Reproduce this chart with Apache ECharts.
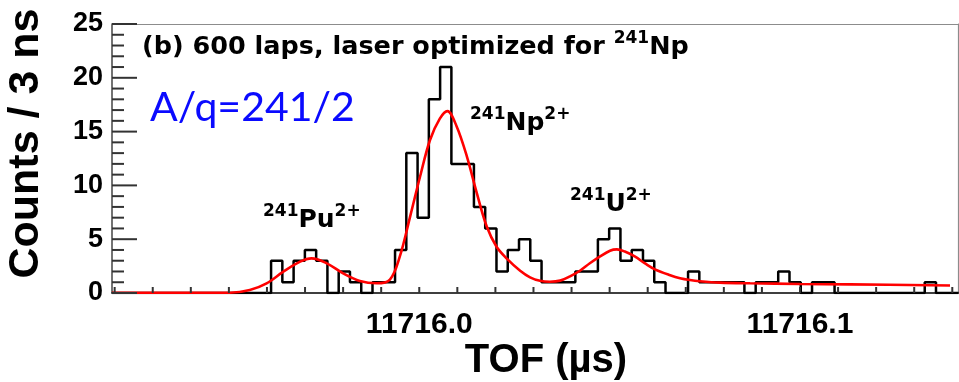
<!DOCTYPE html>
<html>
<head>
<meta charset="utf-8">
<script src="https://cdn.jsdelivr.net/npm/echarts@6/dist/echarts.min.js"></script>
<style>
  html, body { margin: 0; padding: 0; background: #fff; }
  #chart { width: 959px; height: 382px; }
</style>
</head>
<body>
<div id="chart"></div>
<script>
// Time-of-flight histogram, 3 ns bins (counts per bin, left to right)
const binStart = 11715.95812;   // left edge of the first listed bin, µs
const binWidth = 0.00296;       // bin width, µs
const binCounts = [
  0, 3, 1, 3, 4, 3, 0, 2, 1, 0, 1, 1,
  4, 13, 7, 18, 21, 12, 12, 8, 6, 2,
  4, 5, 3, 1, 1, 1, 2, 2, 5, 6,
  3, 4, 3, 1, 0, 0, 2, 1, 1, 1,
  1, 0, 1, 1, 2, 1, 0, 1, 1, 0,
  0, 0, 0, 0, 0, 0, 0, 1, 0, 0
];

// Fitted curve (sampled)
const fitTof = [
  11715.9193, 11715.9503, 11715.9555, 11715.9599, 11715.9643, 11715.9687,
  11715.9717, 11715.9757, 11715.9800, 11715.9844, 11715.9888, 11715.9923,
  11715.9949, 11715.9976, 11716.0002, 11716.0028, 11716.0054, 11716.0074,
  11716.0098, 11716.0125, 11716.0151, 11716.0177, 11716.0203, 11716.0230,
  11716.0265, 11716.0291, 11716.0317, 11716.0343, 11716.0370, 11716.0396,
  11716.0422, 11716.0448, 11716.0475, 11716.0501, 11716.0519, 11716.0540,
  11716.0567, 11716.0593, 11716.0619, 11716.0659, 11716.0685, 11716.0711,
  11716.0737, 11716.0790, 11716.0869, 11716.1000, 11716.1131, 11716.1394
];
const fitCounts = [
  0.02, 0.03, 0.28, 0.90, 1.98, 2.91,
  3.22, 2.76, 1.83, 1.12, 0.90, 1.25,
  3.40, 7.10, 10.8, 14.2, 16.2, 16.9,
  15.5, 12.7, 9.3, 6.2, 4.3, 3.2,
  2.07, 1.46, 1.14, 1.05, 1.15, 1.55,
  2.07, 2.76, 3.40, 3.93, 4.05, 3.85,
  3.37, 2.75, 2.20, 1.65, 1.37, 1.20,
  1.09, 0.96, 0.90, 0.84, 0.80, 0.70
];

// Axis ranges and ticks
const xMin = 11715.9193;
const xMax = 11716.1415;
const xTickValues = [
  11715.92, 11715.93, 11715.94, 11715.95, 11715.96, 11715.97, 11715.98, 11715.99,
  11716.00, 11716.01, 11716.02, 11716.03, 11716.04, 11716.05, 11716.06, 11716.07,
  11716.08, 11716.09, 11716.10, 11716.11, 11716.12, 11716.13, 11716.14
];
const xLabelValues = [11716.0, 11716.1];
const yMin = 0, yMax = 25, yStep = 5;
const yTickValues = [
  0, 1, 2, 3, 4, 5, 6, 7, 8, 9, 10, 11, 12,
  13, 14, 15, 16, 17, 18, 19, 20, 21, 22, 23, 24, 25
];

const SANS = '"Liberation Sans", Arial, Helvetica, sans-serif';
const WIDE = '"DejaVu Sans", Verdana, sans-serif';
const TICK_COLOR = '#333333';

// Plot box in pixels
const W = 959, H = 382;
const GRID = { left: 112, top: 24, right: 1, bottom: 89 };
const plotW = W - GRID.left - GRID.right;
const plotH = H - GRID.top - GRID.bottom;
const xPerPx = (xMax - xMin) / plotW;
const yPerPx = (yMax - yMin) / plotH;

// Step outline: one point per bin left edge, closed at the last right edge
const histData = [[xMin, 0]];
binCounts.forEach((c, i) => histData.push([binStart + i * binWidth, c]));
histData.push([binStart + binCounts.length * binWidth, binCounts[binCounts.length - 1]]);

const fitData = fitTof.map((t, i) => [t, fitCounts[i]]);

// Tick marks, one short line series per mark: long at labelled counts,
// short in between, and short upward marks along the time axis every 0.01 µs
const tickSeries = [];
yTickValues.forEach(v => {
  const len = (v % yStep === 0) ? 25 : 12;
  tickSeries.push({
    type: 'line', data: [[xMin, v], [xMin + len * xPerPx, v]], symbol: 'none',
    silent: true, clip: false, z: 4,
    lineStyle: { color: TICK_COLOR, width: 2 }
  });
});
xTickValues.forEach(v => {
  tickSeries.push({
    type: 'line', data: [[v, yMin], [v, yMin + 6 * yPerPx]], symbol: 'none',
    silent: true, clip: false, z: 4,
    lineStyle: { color: TICK_COLOR, width: 2 }
  });
});

function peakLabel(x, y, sup, main, charge) {
  return {
    type: 'text', left: x, top: y, z: 10,
    style: {
      text: '{s|' + sup + '}{m|' + main + '}{s|' + charge + '}',
      rich: {
        m: { fontFamily: WIDE, fontWeight: 'bold', fontSize: 25, lineHeight: 30, fill: '#000', verticalAlign: 'bottom' },
        s: { fontFamily: WIDE, fontWeight: 'bold', fontSize: 17, lineHeight: 18, fill: '#000', verticalAlign: 'top' }
      }
    }
  };
}

const frameLine = { show: true, onZero: false, lineStyle: { color: '#8c8c8c', width: 1.2 } };

const chart = echarts.init(document.getElementById('chart'), null, { renderer: 'canvas' });
chart.setOption({
  animation: false,
  backgroundColor: '#fff',
  grid: {
    left: GRID.left, top: GRID.top, right: GRID.right, bottom: GRID.bottom,
    outerBoundsMode: 'none', containLabel: false, show: false
  },
  xAxis: [
    {
      type: 'value', min: xMin, max: xMax, position: 'bottom',
      name: 'TOF (µs)', nameLocation: 'middle', nameGap: 48, nameMoveOverlap: false,
      nameTextStyle: { fontFamily: SANS, fontWeight: 'bold', fontSize: 40, color: '#000', padding: [0, 0, 0, 22] },
      axisLine: { show: true, onZero: false, lineStyle: { color: '#000', width: 1.5 } },
      axisTick: { show: false },
      axisLabel: {
        show: true, customValues: xLabelValues, formatter: v => v.toFixed(1),
        fontFamily: SANS, fontWeight: 'bold', fontSize: 30, color: '#000', margin: 17
      },
      splitLine: { show: false }
    },
    {
      // top frame edge
      type: 'value', min: xMin, max: xMax, position: 'top',
      axisLine: frameLine, axisTick: { show: false }, axisLabel: { show: false }, splitLine: { show: false }
    }
  ],
  yAxis: [
    {
      type: 'value', min: yMin, max: yMax, interval: yStep, position: 'left',
      name: 'Counts / 3 ns', nameLocation: 'middle', nameRotate: 90, nameGap: 64, nameMoveOverlap: false,
      nameTextStyle: { fontFamily: SANS, fontWeight: 'bold', fontSize: 43, color: '#000', padding: [0, 0, 0, 30] },
      axisLine: { show: true, onZero: false, lineStyle: { color: '#444', width: 1.5 } },
      axisTick: { show: false },
      axisLabel: { show: true, fontFamily: SANS, fontWeight: 'bold', fontSize: 27, color: '#000', margin: 9 },
      splitLine: { show: false }
    },
    {
      // right frame edge
      type: 'value', min: yMin, max: yMax, interval: yStep, position: 'right',
      axisLine: frameLine, axisTick: { show: false }, axisLabel: { show: false }, splitLine: { show: false }
    }
  ],
  series: tickSeries.concat([
    {
      name: 'Counts', type: 'line', data: histData, step: 'end', symbol: 'none',
      lineStyle: { color: '#000', width: 2.5 }, z: 2
    },
    {
      name: 'Fit', type: 'line', data: fitData, smooth: 0.35, symbol: 'none',
      lineStyle: { color: '#ff0000', width: 2.6 }, z: 3
    }
  ]),
  graphic: [
    {
      type: 'text', left: 142, top: 30, z: 10,
      style: {
        text: '{m|(b) 600 laps, laser optimized for }{s|241}{m|Np}',
        rich: {
          m: { fontFamily: WIDE, fontWeight: 'bold', fontSize: 25.5, lineHeight: 30, fill: '#000', verticalAlign: 'bottom' },
          s: { fontFamily: WIDE, fontWeight: 'bold', fontSize: 17, lineHeight: 18, fill: '#000', verticalAlign: 'top' }
        }
      }
    },
    {
      type: 'text', left: 150, top: 87, z: 10,
      style: { text: 'A/q=241/2', fontFamily: 'Lato, "Open Sans", sans-serif', fontSize: 41, fill: '#0a0aff' }
    },
    peakLabel(263, 203, '241', 'Pu', '2+'),
    peakLabel(470, 106, '241', 'Np', '2+'),
    peakLabel(570, 187, '241', 'U', '2+')
  ]
});
</script>
</body>
</html>
